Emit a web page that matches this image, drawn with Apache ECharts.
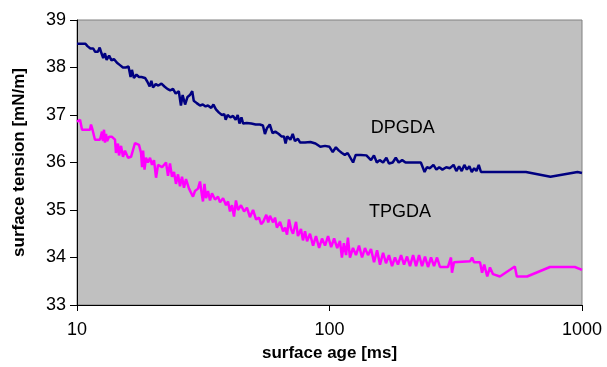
<!DOCTYPE html>
<html>
<head>
<meta charset="utf-8">
<script src="https://cdn.jsdelivr.net/npm/echarts@6/dist/echarts.min.js"></script>
<style>
  html, body { margin: 0; padding: 0; background: #fff; }
  #chart { width: 607px; height: 367px; }
</style>
</head>
<body>
<div id="chart"></div>
<script>
// surface age [ms] and surface tension [mN/m]
const dpgdaAge = [
  10, 10.8, 11.0, 11.3, 11.6, 11.8, 12.1, 12.3, 12.5, 12.7, 12.9, 13.1, 13.4, 13.7, 14.0, 14.4, 14.8, 15.2, 15.6, 16.0,
  16.3, 16.5, 16.8, 17.2, 17.6, 18.0, 18.6, 19.0, 19.4, 19.7, 20.0, 20.5, 21.0, 21.6, 22.2, 22.8, 23.4, 24.0, 24.6, 25.3,
  25.8, 26.2, 26.8, 27.4, 28.0, 28.6, 29.0, 29.8, 30.7, 31.5, 32.3, 33.0, 34.0, 34.7, 35.5, 36.5, 37.5, 38.3, 38.8, 39.5,
  40.5, 41.5, 42.5, 43.3, 44.0, 44.8, 45.5, 47, 49, 51, 53, 54.5, 55.5, 56.5, 58, 59.5, 61, 63, 64.5, 66,
  67, 68, 70, 71.5, 73, 75, 76.5, 80, 84, 88, 92, 96, 100, 103, 106, 109, 112, 115, 118, 120,
  124, 127, 133, 140, 146, 150, 154, 158, 163, 168, 172, 178, 183, 188, 194, 200, 215, 230, 238, 243,
  250, 258, 265, 272, 280, 290, 300, 310, 318, 326, 334, 342, 350, 358, 366, 374, 382, 390, 398, 405,
  600, 750, 960, 1000
];
const dpgdaTension = [
  38.5, 38.5, 38.45, 38.4, 38.4, 38.33, 38.33, 38.42, 38.3, 38.2, 38.3, 38.16, 38.25, 38.15, 38.18, 38.1, 38.05, 38.0, 38.0, 38.02,
  37.8, 37.95, 37.78, 37.85, 37.8, 37.8, 37.78, 37.7, 37.6, 37.72, 37.58, 37.65, 37.62, 37.66, 37.6, 37.55, 37.52, 37.55, 37.45, 37.5,
  37.2, 37.42, 37.22, 37.38, 37.42, 37.5, 37.3, 37.25, 37.2, 37.22, 37.18, 37.2, 37.15, 37.22, 37.12, 37.05, 37.0, 37.02, 36.9, 37.0,
  36.95, 36.98, 36.9, 37.0, 36.82, 36.95, 36.82, 36.83, 36.82, 36.8, 36.8, 36.78, 36.6, 36.72, 36.8, 36.62, 36.65, 36.6, 36.55, 36.55,
  36.4, 36.55, 36.48, 36.6, 36.45, 36.5, 36.42, 36.42, 36.43, 36.4, 36.33, 36.35, 36.33, 36.22, 36.32, 36.25, 36.2, 36.16, 36.2, 36.16,
  36.0, 36.16, 36.16, 36.15, 36.05, 36.15, 36.0, 36.05, 36.0, 36.1, 35.98, 36.0, 36.1, 36.0, 36.05, 36.0, 36.0, 36.0, 35.8, 35.9,
  35.88, 35.95, 35.85, 35.9, 35.85, 35.9, 35.88, 35.95, 35.82, 35.92, 35.82, 35.95, 35.85, 35.92, 35.8, 35.88, 35.82, 35.95, 35.8, 35.8,
  35.8, 35.7, 35.8, 35.78
];

const tpgdaAge = [
  10, 10.28, 10.47, 11.26, 11.36, 11.52, 11.78, 12.33, 12.56, 12.68, 12.79, 12.91, 13.03, 13.15, 13.39, 13.76, 14.14, 14.27, 14.53, 14.67,
  14.94, 15.21, 15.49, 15.93, 16.37, 16.66, 16.97, 17.6, 17.93, 18.1, 18.27, 18.51, 18.76, 19.1, 19.46, 19.82, 20.18, 20.56, 20.94, 21.72,
  22.52, 22.93, 23.35, 23.78, 24.22, 24.66, 25.12, 25.58, 26.05, 26.53, 27.02, 27.77, 28.28, 28.8, 29.33, 30.15, 30.7, 31.27, 31.55, 31.98,
  32.43, 33.03, 33.63, 34.25, 35.2, 36.18, 36.85, 37.88, 38.93, 39.64, 40.36, 41.1, 41.86, 42.6, 43.4, 44.6, 45.9, 47.1, 48.4, 49.8,
  51.2, 52.6, 53.6, 54.6, 56.2, 57.2, 58.1, 59.8, 60.85, 61.9, 63.7, 65.5, 66.7, 67.9, 69.1, 70.4, 71.7, 73.7, 75.0, 77.1,
  78.5, 80.0, 81.5, 83.7, 86.1, 88.4, 91.0, 93.4, 96.0, 98.7, 101.5, 104.3, 107.3, 110, 112, 114, 116.3, 118.3, 120.5, 123.9,
  127.3, 130.9, 134.6, 138.2, 142.1, 146.0, 150.1, 154.3, 158.5, 163, 167.4, 172, 176.9, 181.7, 186.7, 192, 197.3, 202.8, 208.4, 214.3,
  220.2, 226.3, 232.6, 238.9, 245.6, 252.4, 259.4, 266.6, 273.9, 294.5, 302.8, 305.6, 311.2, 360.1, 367, 373.5, 394.5, 402, 410, 421.5,
  432, 444, 473, 542, 552, 606, 747, 937, 1000
];
const tpgdaTension = [
  36.86, 36.9, 36.69, 36.69, 36.8, 36.69, 36.48, 36.48, 36.65, 36.45, 36.69, 36.42, 36.6, 36.45, 36.54, 36.54, 36.48, 36.2, 36.4, 36.15,
  36.35, 36.12, 36.25, 36.1, 36.12, 36.1, 36.41, 36.37, 36.2, 35.9, 36.25, 35.85, 36.1, 36.0, 36.1, 35.95, 36.05, 35.68, 35.95, 35.9,
  36.0, 35.72, 35.98, 35.7, 35.8, 35.55, 35.75, 35.5, 35.7, 35.47, 35.65, 35.45, 35.42, 35.28, 35.4, 35.45, 35.6, 35.3, 35.18, 35.55,
  35.25, 35.4, 35.2, 35.35, 35.22, 35.28, 35.16, 35.25, 35.1, 35.18, 34.97, 35.1, 34.86, 35.2, 35.0, 35.1, 34.97, 35.05, 34.85, 35.0,
  34.8, 34.84, 34.7, 34.75, 34.9, 34.74, 34.88, 34.74, 34.84, 34.63, 34.75, 34.55, 34.63, 34.48, 34.8, 34.6, 34.5, 34.75, 34.45, 34.6,
  34.36, 34.55, 34.34, 34.5, 34.25, 34.45, 34.2, 34.4, 34.25, 34.45, 34.22, 34.4, 34.2, 34.35, 34.0, 34.3, 34.05, 34.42, 34.0, 34.2,
  34.05, 34.25, 34.0, 34.2, 34.05, 34.18, 33.9, 34.15, 33.85, 34.1, 33.88, 34.05, 33.82, 34.0, 33.85, 34.05, 33.85, 34.02, 33.82, 34.05,
  33.82, 34.05, 33.82, 34.02, 33.8, 34.0, 33.82, 34.0, 33.8, 33.8, 34.0, 33.68, 33.9, 33.92, 34.0, 33.9, 33.9, 33.68, 33.85, 33.6,
  33.79, 33.65, 33.6, 33.81, 33.6, 33.6, 33.8, 33.8, 33.74
];

const yTicks = [33, 34, 35, 36, 37, 38, 39];
const xTicks = [10, 100, 1000];

// where the two series names sit, in data units
const dpgdaLabelAt = [195, 36.73];
const tpgdaLabelAt = [190, 34.95];

const zip = (xs, ys) => xs.map((x, i) => [x, ys[i]]);

const chart = echarts.init(document.getElementById('chart'));

const textFont = 'Liberation Sans, Arial, sans-serif';

const seriesLabel = (text, coord) => ({
  symbol: 'circle',
  symbolSize: 0,
  silent: true,
  data: [{ coord: coord }],
  label: {
    show: true,
    position: 'inside',
    formatter: text,
    color: '#000',
    fontSize: 18,
    fontFamily: textFont,
  },
});

const option = {
  animation: false,
  backgroundColor: '#ffffff',
  grid: {
    left: 77,
    right: 25,
    top: 20,
    bottom: 61,
    show: true,
    backgroundColor: '#c0c0c0',
    borderColor: '#808080',
    borderWidth: 1,
  },
  xAxis: {
    type: 'log',
    logBase: 10,
    min: xTicks[0],
    max: xTicks[xTicks.length - 1],
    name: 'surface age [ms]',
    nameLocation: 'middle',
    nameGap: 40,
    nameTextStyle: {
      color: '#000',
      fontSize: 17,
      fontWeight: 'bold',
      fontFamily: textFont,
    },
    axisLine: { show: true, lineStyle: { color: '#000', width: 1 } },
    axisTick: { show: true, length: 6, lineStyle: { color: '#000' } },
    minorTick: { show: false },
    splitLine: { show: false },
    axisLabel: {
      color: '#000',
      fontSize: 18,
      fontFamily: textFont,
      margin: 16,
      formatter: (v) => String(Math.round(v)),
    },
  },
  yAxis: {
    type: 'value',
    min: yTicks[0],
    max: yTicks[yTicks.length - 1],
    interval: 1,
    name: 'surface tension [mN/m]',
    nameLocation: 'middle',
    nameGap: 49,
    nameTextStyle: {
      color: '#000',
      fontSize: 17,
      fontWeight: 'bold',
      fontFamily: textFont,
    },
    axisLine: { show: true, lineStyle: { color: '#000', width: 1 } },
    axisTick: { show: true, length: 7, lineStyle: { color: '#000' } },
    splitLine: { show: false },
    axisLabel: {
      color: '#000',
      fontSize: 18,
      fontFamily: textFont,
      margin: 11,
    },
  },
  series: [
    {
      name: 'DPGDA',
      type: 'line',
      data: zip(dpgdaAge, dpgdaTension),
      showSymbol: false,
      symbol: 'none',
      lineStyle: { color: '#000080', width: 2.5 },
      markPoint: seriesLabel('DPGDA', dpgdaLabelAt),
    },
    {
      name: 'TPGDA',
      type: 'line',
      data: zip(tpgdaAge, tpgdaTension),
      showSymbol: false,
      symbol: 'none',
      lineStyle: { color: '#ff00ff', width: 2.5 },
      markPoint: seriesLabel('TPGDA', tpgdaLabelAt),
    },
  ],
};

chart.setOption(option);
</script>
</body>
</html>
